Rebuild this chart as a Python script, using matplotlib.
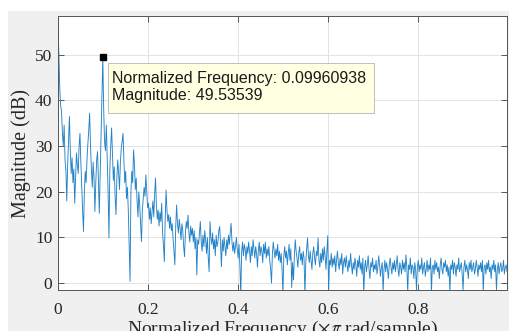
import numpy as np
import matplotlib
matplotlib.use("Agg")
import matplotlib.pyplot as plt
from matplotlib.patches import Rectangle
from matplotlib.transforms import Affine2D

# magnitude response (dB), 512 bins over [0, 1) x pi rad/sample
mag_db = [
    56.1, 50.0, 42.5, 39.0, 37.5, 33.0, 30.0, 34.6,
    27.0, 24.5, 18.0, 26.0, 31.0, 36.5, 29.0, 24.0,
    27.5, 22.0, 25.0, 17.5, 23.0, 28.5, 26.0, 24.0,
    30.0, 32.8, 26.5, 21.0, 16.0, 11.3, 20.0, 24.5,
    22.0, 27.0, 30.5, 33.5, 37.2, 30.0, 25.0, 21.0,
    26.5, 23.0, 15.7, 22.0, 27.0, 28.8, 22.5, 15.3,
    24.0, 33.5, 41.0, 49.53539, 38.0, 31.0, 29.0, 34.6,
    27.5, 20.0, 9.9, 25.0, 30.0, 34.0, 28.0, 22.5,
    25.5, 19.0, 15.0, 23.0, 27.0, 24.0, 20.5, 26.5,
    29.5, 31.0, 32.8, 27.0, 22.0, 24.5, 18.5, 21.0,
    16.0, 8.0, 0.4, 20.0, 24.5, 22.0, 29.2, 26.0,
    20.5, 23.0, 18.0, 14.5, 20.0, 17.0, 13.0, 9.1,
    16.0, 18.5, 21.0, 19.0, 23.7, 20.0, 16.5, 17.5,
    14.0, 16.5, 13.0, 15.5, 18.0, 14.5, 19.5, 23.0,
    17.0, 14.0, 16.0, 12.5, 15.5, 13.5, 17.5, 11.0,
    8.5, 4.7, 14.0, 20.4, 16.0, 13.5, 15.0, 12.0,
    14.5, 11.5, 13.0, 9.5, 7.0, 4.0, 12.5, 17.1,
    13.0, 11.0, 14.0, 12.0, 9.5, 13.0, 11.5, 8.0,
    5.8, 11.0, 13.5, 12.0, 14.9, 11.0, 9.0, 12.5,
    10.5, 12.0, 9.0, 11.5, 7.5, 10.0, 1.8, 9.5,
    8.5, 11.0, 13.5, 9.0, 7.0, 10.5, 8.0, 11.5,
    9.5, 6.5, 10.0, 5.5, 2.5, 13.5, 10.0, 8.5,
    11.0, 7.5, 9.5, 6.0, 10.5, 8.0, 9.0, 11.5,
    12.4, 8.5, 3.6, 9.5, 7.0, 10.0, 8.0, 6.0,
    9.5, 7.5, 10.5, 8.5, 11.0, 13.1, 9.0, 7.0,
    9.0, 6.5, 8.0, 10.0, 7.5, 5.5, 8.5, 4.0,
    -3.0, 7.0, 9.0, 6.0, 8.5, 7.5, 5.0, 8.0,
    6.5, 9.0, 7.0, 4.5, 8.0, 6.0, 9.5, 7.5,
    5.5, 8.0, 6.5, 3.5, 7.0, 9.0, 6.0, 8.0,
    7.0, 4.5, 8.5, 6.5, 9.0, 5.5, 7.5, 6.0,
    8.0, 5.0, 3.0, 0.0, 6.5, 9.0, 7.0, 5.5,
    7.5, 6.0, 8.5, 5.0, 7.0, 4.5, 6.5, 3.0,
    -2.5, 6.0, 8.0, 5.5, 7.0, 4.0, 6.5, 8.5,
    5.0, 7.5, -1.0, 4.5, 0.7, 6.0, 9.5, 7.0,
    5.5, 3.5, 6.5, 8.0, 5.0, 6.5, 4.0, 7.0,
    5.5, -2.5, 4.5, 7.5, 9.9, 6.0, 4.5, 7.0,
    5.0, 3.0, 6.5, 8.0, 5.5, 4.0, 7.0, 6.0,
    9.9, 5.0, 3.5, 6.5, 4.5, 7.5, 5.0, 8.0,
    6.0, 3.0, 7.0, 10.4, -2.0, 5.0, 4.0, 6.5,
    3.5, 5.5, 4.0, 6.0, 2.5, 5.0, 7.0, 4.5,
    3.0, 5.5, 4.0, 6.5, 2.0, 4.5, 5.5, 3.5,
    6.0, 4.0, 2.5, 5.0, 3.5, 6.5, 4.0, 2.0,
    4.5, 3.0, 5.5, 4.0, 1.5, 5.0, 3.5, 6.0,
    3.0, 4.5, 2.0, 5.5, -2.5, 3.5, 5.0, 2.5,
    4.0, 6.0, 3.0, 1.0, 4.5, 3.5, 5.5, 2.5,
    4.0, 3.0, 5.0, 2.0, 3.5, 6.0, 4.0, 1.5,
    3.5, 4.5, -2.0, 3.0, 5.0, 2.5, 4.5, 3.0,
    1.0, 4.0, 5.5, 3.5, 2.0, 4.5, 3.0, 5.0,
    2.5, 4.0, 6.0, 3.0, 1.5, 4.5, 3.5, 2.0,
    5.0, 3.0, 4.5, 2.5, 6.2, 3.5, -2.0, 4.0,
    3.0, 5.5, 2.0, 4.0, 3.5, 1.0, 4.5, 3.0,
    -1.5, 3.5, 5.0, 2.5, 4.0, 3.0, 5.5, 2.0,
    3.5, 4.5, 1.5, 3.0, 5.0, 2.5, 4.0, 3.0,
    5.5, -2.0, 3.5, 4.0, 2.0, 5.0, 3.0, 4.5,
    2.5, 3.5, 1.0, 4.0, 5.5, 3.0, 2.0, 4.5,
    3.5, 5.0, 2.5, 4.0, 1.5, 3.5, -2.0, 4.0,
    3.0, 5.0, 2.0, 4.5, 3.5, 1.5, 4.0, 3.0,
    5.5, 2.5, 3.5, 4.5, 2.0, -1.5, 3.5, 5.0,
    2.5, 4.0, 3.0, 1.0, 4.5, 3.0, 5.0, 2.5,
    3.5, 4.5, 2.0, 3.0, 5.0, 3.5, 1.5, 4.0,
    3.0, 4.5, 2.5, 5.0, -2.0, 3.5, 4.0, 2.0,
    4.5, 3.0, 5.0, 2.5, 3.5, 1.0, 4.0, 3.0,
    5.0, 2.5, 4.0, -1.5, 3.0, 4.5, 2.0, 3.5,
    4.5, 2.5, 3.0, 5.0, 2.0, 3.5, 4.0, 2.5,
]
n_bins = len(mag_db)
freq = np.arange(n_bins) / n_bins

x_ticks = [0, 0.2, 0.4, 0.6, 0.8]
x_tick_labels = ["0", "0.2", "0.4", "0.6", "0.8"]
y_ticks = [0, 10, 20, 30, 40, 50]
y_tick_labels = ["0", "10", "20", "30", "40", "50"]

plt.rcParams["mathtext.fontset"] = "stix"

fig = plt.figure(figsize=(5.1, 3.31), dpi=100, facecolor="white")
# grey MATLAB figure window, with the thin white strip on top and left
bg = Rectangle((8 / 510, 0), 1, 1 - 11 / 331, transform=fig.transFigure,
               facecolor="#f0f0f0", edgecolor="none", zorder=-10)
fig.add_artist(bg)

ax = fig.add_axes([58 / 510, 1 - 290 / 331, 449 / 510, 274 / 331])
ax.set_facecolor("white")

ax.plot(freq, mag_db, color="#2383c8", lw=0.65)

ax.set_xlim(0, freq[-1])
ax.set_ylim(-1.5, 58.5)
ax.set_xticks(x_ticks)
ax.set_xticklabels(x_tick_labels)
ax.set_yticks(y_ticks)
ax.set_yticklabels(y_tick_labels)

serif = "Liberation Serif"
for lab in ax.get_xticklabels() + ax.get_yticklabels():
    lab.set_fontfamily(serif)
    lab.set_fontsize(12.5)
    lab.set_color("#262626")

ax.tick_params(direction="in", length=4, width=0.6, color="#404040",
               top=True, right=True)
ax.tick_params(axis="x", pad=9)
ax.tick_params(axis="y", pad=4)
ax.grid(True, color="#e3e3e3", lw=0.7)
ax.set_axisbelow(True)
for sp in ax.spines.values():
    sp.set_color("#555555")
    sp.set_linewidth(0.7)

ax.set_xlabel("Normalized Frequency ($\\times\\pi$ rad/sample)", family=serif,
              fontsize=14, color="#262626", labelpad=0)
ax.set_ylabel("Magnitude (dB)", family=serif, fontsize=14.5, color="#262626",
              labelpad=3)

# data tip on the strongest bin away from DC
k_peak = int(np.argmax(mag_db[10:])) + 10
f_peak, m_peak = freq[k_peak], mag_db[k_peak]
ax.plot([f_peak], [m_peak], marker="s", ms=5, color="black", mec="black", zorder=5)

# tip box, sized in pixels from the marker
fig.canvas.draw()
px, py = ax.transData.transform((f_peak, m_peak))
tip_box = Rectangle((5, -56), 266, 50, transform=Affine2D().translate(px, py),
                    facecolor="#ffffe1", edgecolor="#b4b4b4", lw=0.6, zorder=6,
                    clip_on=False)
ax.add_artist(tip_box)
ax.annotate(f"Normalized Frequency: {f_peak:.8f}\nMagnitude: {m_peak:.5f}",
            xy=(f_peak, m_peak), xytext=(9, -14), textcoords="offset pixels",
            ha="left", va="top", family="Liberation Sans", fontsize=11.5,
            linespacing=1.17, color="#1a1a1a", zorder=7)

fig.savefig("out.png", dpi=100, facecolor=fig.get_facecolor())
